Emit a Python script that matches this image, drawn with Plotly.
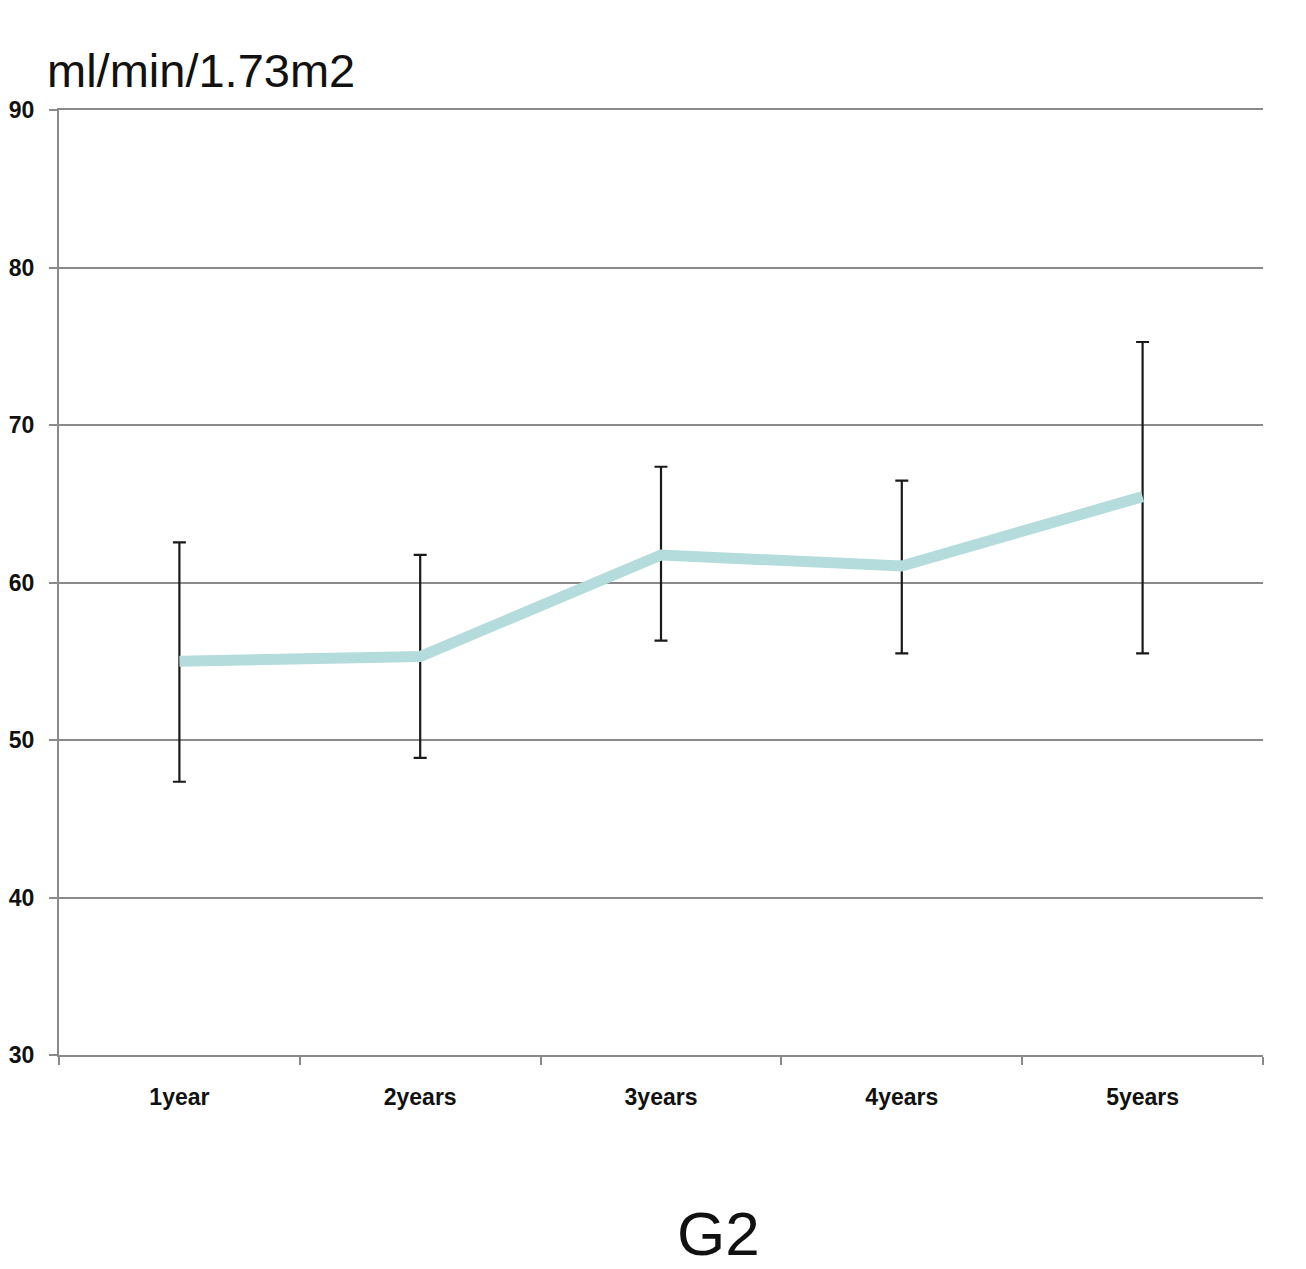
import plotly.graph_objects as go

categories = ["1year", "2years", "3years", "4years", "5years"]
means = [55.0, 55.3, 61.75, 61.05, 65.45]
upper = [62.55, 61.75, 67.35, 66.47, 75.27]
lower = [47.35, 48.86, 56.31, 55.5, 55.5]
y_ticks = [30, 40, 50, 60, 70, 80, 90]

err_plus = [u - m for u, m in zip(upper, means)]
err_minus = [m - l for m, l in zip(means, lower)]

W, H = 1306, 1269
L, R, T, B = 59, 43, 110, 214

fig = go.Figure()
fig.add_trace(go.Scatter(
    x=categories, y=means, mode="lines",
    line=dict(color="#B5DCDD", width=11),
    error_y=dict(type="data", symmetric=False, array=err_plus, arrayminus=err_minus,
                 color="#1a1a1a", thickness=2.2, width=6.5),
    showlegend=False, hoverinfo="skip",
))

font_family = "Liberation Sans, Arial, sans-serif"
fig.update_layout(
    width=W, height=H,
    margin=dict(l=L, r=R, t=T, b=B, pad=0),
    paper_bgcolor="white", plot_bgcolor="white",
    font=dict(family=font_family, color="#111"),
    xaxis=dict(
        type="category", range=[-0.5, 4.5], automargin=False,
        showline=True, mirror=True, linecolor="#8a8a8a", linewidth=2,
        ticks="outside", tickson="boundaries", ticklen=8, tickcolor="#8a8a8a", tickwidth=2,
        showgrid=False, zeroline=False,
        tickfont=dict(size=23, family=font_family, color="#111", weight="bold"),
        ticklabelstandoff=20,
    ),
    yaxis=dict(
        range=[30, 90], tickvals=y_ticks, automargin=False,
        showline=True, linecolor="#8a8a8a", linewidth=2,
        ticks="outside", ticklen=8, tickcolor="#8a8a8a", tickwidth=2,
        showgrid=True, gridcolor="#8a8a8a", gridwidth=2,
        zeroline=False,
        tickfont=dict(size=23, family=font_family, color="#111", weight="bold"),
        ticklabelstandoff=10,
    ),
    annotations=[
        dict(text="ml/min/1.73m2", x=(45 - L) / (W - L - R), y=1 + (T - 70) / (H - T - B),
             xref="paper", yref="paper", xanchor="left", yanchor="middle",
             showarrow=False, font=dict(size=47, family=font_family, color="#111")),
        dict(text="G2", x=(718 - L) / (W - L - R), y=-(1233 - (H - B)) / (H - T - B),
             xref="paper", yref="paper", xanchor="center", yanchor="middle",
             showarrow=False, font=dict(size=62, family=font_family, color="#111")),
    ],
)

fig.write_html("out.html")
